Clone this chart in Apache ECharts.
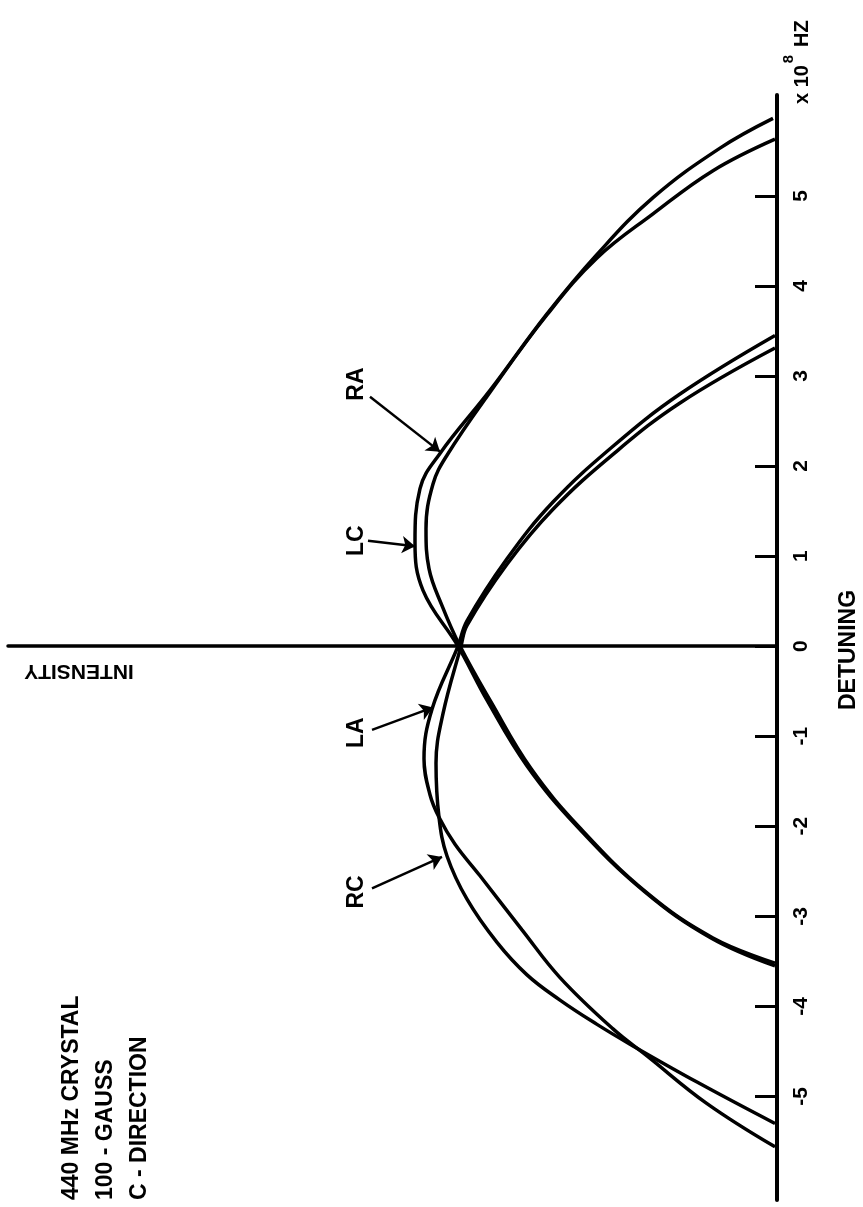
<!DOCTYPE html>
<html>
<head>
<meta charset="utf-8">
<script src="https://cdn.jsdelivr.net/npm/echarts@6/dist/echarts.min.js"></script>
<style>
  html, body { margin: 0; padding: 0; background: #fff; }
  #chart { width: 863px; height: 1207px; }
</style>
</head>
<body>
<div id="chart"></div>
<script>
// detuning axis (x 10^8 Hz), drawn vertically
const detuningTicks = [-5, -4, -3, -2, -1, 0, 1, 2, 3, 4, 5]

// curves as [intensity (arb. units), detuning]
const curveLC = [[0.04, 5.86], [0.57, 5.53], [1.24, 4.98], [1.80, 4.35], [2.30, 3.69], [2.87, 2.84],
  [3.37, 2.14], [3.57, 1.75], [3.62, 1.15], [3.54, 0.62], [3.19, 0], [2.90, -0.6], [2.50, -1.33],
  [2.00, -2.0], [1.33, -2.72], [0.66, -3.24], [0.02, -3.55]]
const curveRA = [[0.02, 5.63], [0.64, 5.28], [1.24, 4.80], [1.80, 4.31], [2.30, 3.68], [2.87, 2.82],
  [3.30, 2.12], [3.44, 1.8], [3.51, 1.3], [3.48, 0.86], [3.35, 0.45], [3.17, 0], [2.86, -0.62],
  [2.46, -1.36], [1.96, -2.03], [1.30, -2.74], [0.64, -3.24], [0.02, -3.52]]
const curveLA = [[0.02, 3.45], [0.97, 2.8], [1.64, 2.22], [2.24, 1.6], [2.70, 0.97], [3.10, 0.28],
  [3.19, 0], [3.45, -0.7], [3.53, -1.25], [3.47, -1.65], [3.38, -1.9], [3.22, -2.2], [2.97, -2.55],
  [2.55, -3.15], [2.17, -3.68], [1.64, -4.25], [1.30, -4.55], [0.70, -5.08], [0.02, -5.56]]
const curveRC = [[0.02, 3.31], [0.97, 2.7], [1.64, 2.13], [2.24, 1.52], [2.70, 0.91], [3.10, 0.23],
  [3.16, 0], [3.34, -0.75], [3.41, -1.3], [3.38, -1.9], [3.30, -2.33], [3.10, -2.81], [2.80, -3.29],
  [2.50, -3.65], [2.17, -3.93], [1.80, -4.2], [1.47, -4.42], [0.80, -4.84], [0.02, -5.3]]

// curve names with label spot and arrow (from, to), in data units
const curveNames = ['RA', 'LC', 'LA', 'RC']
const labelSpots = [[4.20, 2.91], [4.20, 1.17], [4.20, -0.96], [4.20, -2.73]]
const arrowFrom = [[4.07, 2.77], [4.09, 1.17], [4.05, -0.93], [4.05, -2.69]]
const arrowTo = [[3.37, 2.16], [3.62, 1.11], [3.44, -0.68], [3.35, -2.34]]

const FONT = 'Liberation Sans, Arial, sans-serif'

const lineSeries = (name, data) => ({
  name: name,
  type: 'line',
  data: data,
  smooth: 0.4,
  showSymbol: false,
  silent: true,
  lineStyle: { color: '#000', width: 3.5 }
})

const arrows = arrowFrom.map((p, i) => [{ coord: p }, { coord: arrowTo[i] }])

const series = [
  lineSeries('LC', curveLC),
  lineSeries('RA', curveRA),
  lineSeries('LA', curveLA),
  lineSeries('RC', curveRC)
]
series[0].markLine = {
  silent: true,
  symbol: ['none', 'arrow'],
  symbolSize: 13,
  label: { show: false },
  lineStyle: { color: '#000', width: 2.5, type: 'solid' },
  data: arrows
}

const option = {
  animation: false,
  backgroundColor: '#fff',
  grid: { left: 8, right: 86, top: 95, bottom: 7 },
  xAxis: {
    type: 'value',
    inverse: true,
    min: 0,
    max: 7.69,
    axisLine: { onZero: true, lineStyle: { color: '#000', width: 3.5 } },
    axisTick: { show: false },
    axisLabel: { show: false },
    splitLine: { show: false }
  },
  yAxis: {
    type: 'value',
    position: 'right',
    min: -6.15,
    max: 6.12,
    axisLine: { onZero: false, lineStyle: { color: '#000', width: 4 } },
    axisTick: {
      inside: true,
      length: 22,
      customValues: detuningTicks,
      lineStyle: { color: '#000', width: 3 }
    },
    axisLabel: {
      customValues: detuningTicks,
      rotate: 90,
      margin: 14,
      color: '#000',
      fontFamily: FONT,
      fontWeight: 'bold',
      fontSize: 21
    },
    splitLine: { show: false }
  },
  series: series
}

const chart = echarts.init(document.getElementById('chart'))
chart.setOption(option)

const toPx = (p) => chart.convertToPixel({ gridIndex: 0 }, p)

const textStyle = (text, size, align) => ({
  text: text,
  fill: '#000',
  font: 'bold ' + size + 'px ' + FONT,
  align: align || 'center',
  verticalAlign: 'middle'
})

const graphics = curveNames.map((n, i) => {
  const [x, y] = toPx(labelSpots[i])
  return { type: 'text', x: x, y: y, rotation: Math.PI / 2, style: textStyle(n, 23) }
})

// unit, axis titles and the note block
graphics.push(
  { type: 'text', x: 802, y: 104, rotation: Math.PI / 2, style: textStyle('x 10', 20, 'left') },
  { type: 'text', x: 789, y: 59, rotation: Math.PI / 2, style: textStyle('8', 15) },
  { type: 'text', x: 802, y: 47, rotation: Math.PI / 2, style: textStyle('HZ', 20, 'left') },
  { type: 'text', x: 849, y: 650, rotation: Math.PI / 2, style: textStyle('DETUNING', 23) },
  { type: 'text', x: 79, y: 671, rotation: Math.PI, style: textStyle('INTENSITY', 21) },
  { type: 'text', x: 72, y: 1200, rotation: Math.PI / 2, style: textStyle('440 MHz CRYSTAL', 23, 'left') },
  { type: 'text', x: 106, y: 1200, rotation: Math.PI / 2, style: textStyle('100 - GAUSS', 23, 'left') },
  { type: 'text', x: 140, y: 1200, rotation: Math.PI / 2, style: textStyle('C - DIRECTION', 23, 'left') }
)

chart.setOption({ graphic: graphics })
</script>
</body>
</html>
